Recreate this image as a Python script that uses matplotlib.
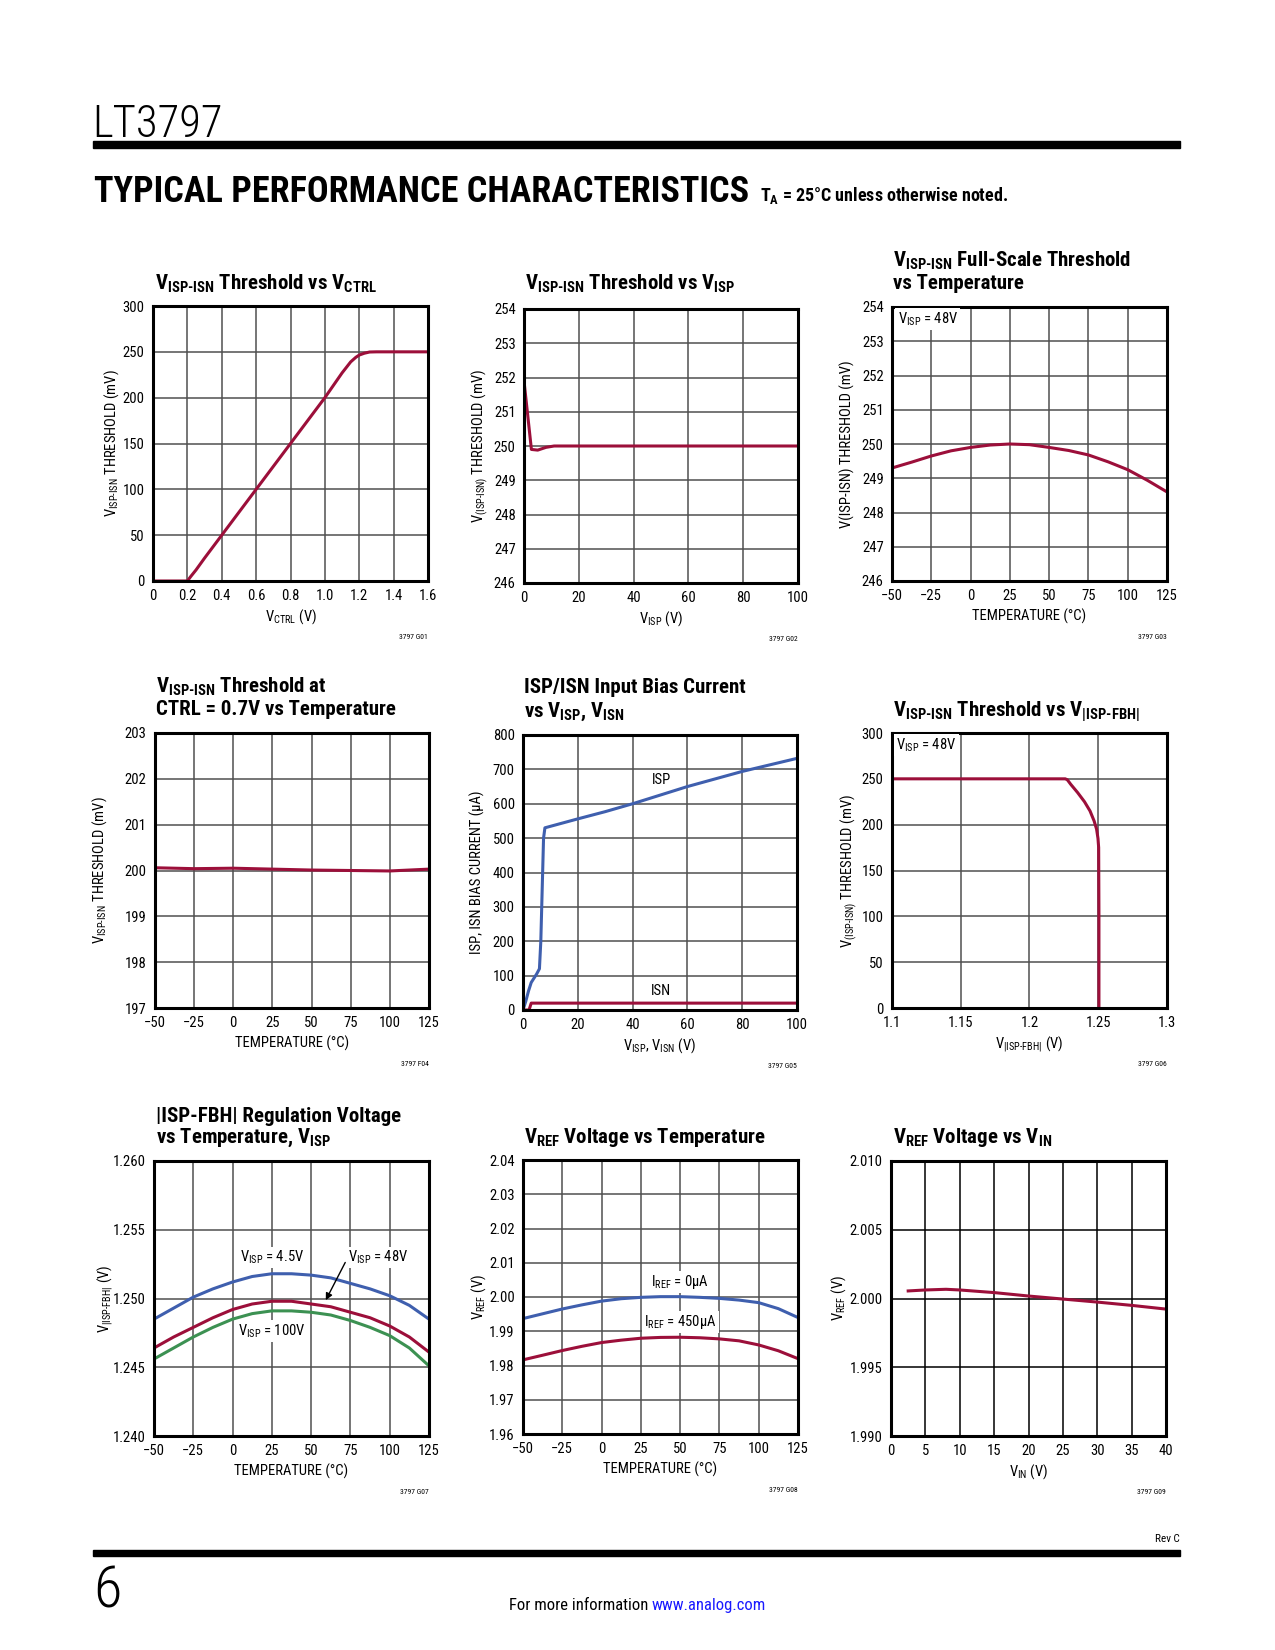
import numpy as np
import matplotlib
matplotlib.use('Agg')
import matplotlib.pyplot as plt
from matplotlib import font_manager

# look for a narrow sans; fall back to DejaVu Sans
installed = {f.name for f in font_manager.fontManager.ttflist}
cands = ['Roboto Condensed', 'Liberation Sans Narrow', 'Open Sans Condensed',
         'Noto Sans Condensed', 'DejaVu Sans Condensed']
FAM = next((c for c in cands if c in installed), None)
STRETCH = 'normal'
if FAM is None:
    cond = [f for f in font_manager.fontManager.ttflist
            if f.stretch in ('condensed', 'semi-condensed')
            and f.name in ('Noto Sans', 'DejaVu Sans', 'Roboto', 'Open Sans', 'Inter')]
    if cond:
        FAM, STRETCH = cond[0].name, 'condensed'
    else:
        FAM = 'DejaVu Sans'
NARROW = FAM != 'DejaVu Sans' or STRETCH != 'normal'

plt.rcParams['font.family'] = FAM
plt.rcParams['font.stretch'] = STRETCH
plt.rcParams['mathtext.fontset'] = 'custom'
plt.rcParams['mathtext.rm'] = FAM
plt.rcParams['mathtext.bf'] = FAM + ':bold'
plt.rcParams['mathtext.it'] = FAM + ':italic'

TICK = 10.5 if NARROW else 8.5
TITLE = 15 if NARROW else 11.5
NOTE = 5.5

RED = '#9c0f3a'
BLUE = '#3f5fae'
GREEN = '#3c9152'
HY = '\u2010'   # hyphen that mathtext will not turn into a minus

# ---- data ----
# G01: threshold vs VCTRL
vctrl = [0, 0.2, 0.22, 0.25, 0.3, 0.4, 0.6, 0.8, 1.0, 1.1, 1.15, 1.18, 1.2, 1.23, 1.26, 1.3, 1.6]
th_vctrl = [0, 0, 5, 12, 25, 50, 100, 150, 200, 227, 239, 244, 246.5, 248.5, 249.8, 250, 250]

# G02: threshold vs VISP
visp = [0, 2.7, 5, 8, 11, 20, 100]
th_visp = [251.9, 249.9, 249.88, 249.96, 250.0, 250.0, 250.0]

# temperatures for the temperature sweeps
temp = [-50, -37.5, -25, -12.5, 0, 12.5, 25, 37.5, 50, 62.5, 75, 87.5, 100, 112.5, 125]

# G03: full-scale threshold vs temperature
th_fs = [249.3, 249.47, 249.65, 249.8, 249.9, 249.97, 250.0, 249.98, 249.9, 249.81,
         249.68, 249.48, 249.25, 248.94, 248.6]

# F04: threshold at CTRL = 0.7V vs temperature
temp4 = [-50, -25, 0, 25, 50, 75, 100, 125]
th_07 = [200.06, 200.04, 200.05, 200.03, 200.01, 200.0, 199.99, 200.03]

# G05: ISP / ISN input bias current
v_isp = [0, 1, 2, 3, 5, 6, 6.5, 7, 7.5, 8, 20, 30, 40, 50, 60, 70, 80, 90, 100]
i_isp = [0, 25, 55, 80, 105, 120, 200, 350, 500, 530, 556, 577, 600, 625, 650, 672, 694, 713, 732]
v_isn = [0, 2.2, 3, 100]
i_isn = [0, 0, 20, 20]

# G06: threshold vs V|ISP-FBH|
v_fbh = [1.1, 1.226, 1.2275, 1.23, 1.235, 1.24, 1.244, 1.247, 1.2488, 1.2498, 1.2503, 1.2505, 1.2505]
th_fbh = [250, 250, 249, 244, 235, 225, 215, 204, 195, 185, 175, 100, 0]

# G07: |ISP-FBH| regulation voltage vs temperature
reg_45 = [1.2485, 1.2493, 1.2501, 1.2507, 1.2512, 1.2516, 1.2518, 1.2518, 1.2517, 1.2515,
          1.2511, 1.2507, 1.2502, 1.2495, 1.2485]
reg_48 = [1.2464, 1.2472, 1.2479, 1.2486, 1.2492, 1.2496, 1.2498, 1.2498, 1.2496, 1.2494,
          1.2490, 1.2486, 1.2480, 1.2472, 1.2461]
reg_100 = [1.2456, 1.2464, 1.2472, 1.2479, 1.2485, 1.2489, 1.2491, 1.2491, 1.2490, 1.2488,
           1.2484, 1.2479, 1.2473, 1.2464, 1.2451]

# G08: VREF vs temperature
vref_0 = [1.9937, 1.9951, 1.9965, 1.9977, 1.9988, 1.9995, 1.9999, 2.0001, 2.0001, 1.9999,
          1.9996, 1.9991, 1.99835, 1.9966, 1.9940]
vref_450 = [1.98165, 1.9830, 1.98437, 1.9856, 1.9867, 1.9874, 1.98796, 1.9882, 1.98825, 1.9881,
            1.98777, 1.9872, 1.9860, 1.9843, 1.9820]

# G09: VREF vs VIN
vin = [2.5, 5, 8, 10, 15, 20, 25, 30, 35, 40]
vref_vin = [2.00055, 2.00062, 2.00067, 2.00062, 2.00043, 2.00018, 1.99996, 1.99974, 1.9995, 1.99923]

temp_ticks = [-50, -25, 0, 25, 50, 75, 100, 125]
temp_labels = ['\u221250', '\u221225', '0', '25', '50', '75', '100', '125']

W, H = 1275, 1650
fig = plt.figure(figsize=(W / 100, H / 100), dpi=100)


def fx(x):
    return x / W


def fy(y):
    return 1 - y / H


def make_axes(box, xlim, ylim, xticks, xlabels, yticks, ylabels, xlabel, ylabel, ylab_off,
              grid_col='#4f4f4f'):
    x0, y0, x1, y1 = box
    ax = fig.add_axes([fx(x0), fy(y1), (x1 - x0) / W, (y1 - y0) / H])
    ax.set_xlim(xlim)
    ax.set_ylim(ylim)
    ax.set_xticks(xticks)
    ax.set_xticklabels(xlabels)
    ax.set_yticks(yticks)
    ax.set_yticklabels(ylabels)
    ax.grid(True, color=grid_col, lw=1.1)
    ax.set_axisbelow(True)
    for s in ax.spines.values():
        s.set_linewidth(2.2)
    ax.tick_params(length=0, pad=6, labelsize=TICK)
    ax.set_xlabel(xlabel, fontsize=TICK, va='baseline')
    ax.xaxis.set_label_coords(0.5, -40 / (y1 - y0))
    ax.set_ylabel(ylabel, fontsize=TICK, va='center')
    ax.yaxis.set_label_coords(-ylab_off / (x1 - x0), 0.5)
    return ax


def title(x, y, s):
    fig.text(fx(x), fy(y), s, fontsize=TITLE, fontweight='bold', va='baseline')


def code(box, s):
    fig.text(fx(box[2]), fy(box[3] + 58), s, fontsize=NOTE, ha='right', va='baseline')


box_note = dict(facecolor='white', edgecolor='none', pad=1.5)
LW = 2.2

# ---- page header ----
fig.text(fx(92), fy(137), 'LT3797', fontsize=32 if NARROW else 26, fontweight='light',
         va='baseline')
fig.add_artist(plt.Rectangle((fx(93), fy(147.5)), fx(1180) - fx(93), 6.5 / H,
                             transform=fig.transFigure, color='black'))
fig.text(fx(94), fy(202), 'TYPICAL PERFORMANCE CHARACTERISTICS',
         fontsize=26 if NARROW else 20, fontweight='bold', va='baseline')
fig.text(fx(760), fy(201), 'T$_{\\mathregular{A}}$ = 25°C unless otherwise noted.',
         fontsize=13 if NARROW else 10.5, fontweight='bold', va='baseline')

# ---- G01 ----
b1 = (153, 306, 428, 581)
ax = make_axes(b1, (0, 1.6), (0, 300),
               [0, 0.2, 0.4, 0.6, 0.8, 1.0, 1.2, 1.4, 1.6],
               ['0', '0.2', '0.4', '0.6', '0.8', '1.0', '1.2', '1.4', '1.6'],
               [0, 50, 100, 150, 200, 250, 300], ['0', '50', '100', '150', '200', '250', '300'],
               'V$_{\\mathregular{CTRL}}$ (V)',
               'V$_{\\mathregular{ISP' + HY + 'ISN}}$ THRESHOLD (mV)', 41)
ax.plot(vctrl, th_vctrl, color=RED, lw=LW)
title(155, 290, 'V$_{\\mathregular{ISP' + HY + 'ISN}}$ Threshold vs V$_{\\mathregular{CTRL}}$')
code(b1, '3797 G01')

# ---- G02 ----
b2 = (524, 309, 798, 583)
ax = make_axes(b2, (0, 100), (246, 254),
               [0, 20, 40, 60, 80, 100], ['0', '20', '40', '60', '80', '100'],
               list(range(246, 255)), [str(v) for v in range(246, 255)],
               'V$_{\\mathregular{ISP}}$ (V)',
               'V$_{\\mathregular{(ISP' + HY + 'ISN)}}$ THRESHOLD (mV)', 44)
ax.plot(visp, th_visp, color=RED, lw=LW)
title(525, 290, 'V$_{\\mathregular{ISP' + HY + 'ISN}}$ Threshold vs V$_{\\mathregular{ISP}}$')
code(b2, '3797 G02')

# ---- G03 ----
b3 = (892, 307, 1167, 581)
ax = make_axes(b3, (-50, 125), (246, 254), temp_ticks, temp_labels,
               list(range(246, 255)), [str(v) for v in range(246, 255)],
               'TEMPERATURE (°C)', 'V(ISP' + HY + 'ISN) THRESHOLD (mV)', 45)
ax.plot(temp, th_fs, color=RED, lw=LW)
ax.text(0.02, 0.94, 'V$_{\\mathregular{ISP}}$ = 48V', transform=ax.transAxes,
        fontsize=TICK, va='baseline', bbox=box_note)
title(893, 267, 'V$_{\\mathregular{ISP' + HY + 'ISN}}$ Full' + HY + 'Scale Threshold')
title(893, 289, 'vs Temperature')
code(b3, '3797 G03')

# ---- F04 ----
b4 = (155, 733, 429, 1008)
ax = make_axes(b4, (-50, 125), (197, 203), temp_ticks, temp_labels,
               list(range(197, 204)), [str(v) for v in range(197, 204)],
               'TEMPERATURE (°C)',
               'V$_{\\mathregular{ISP' + HY + 'ISN}}$ THRESHOLD (mV)', 55)
ax.plot(temp4, th_07, color=RED, lw=LW)
title(156, 693, 'V$_{\\mathregular{ISP' + HY + 'ISN}}$ Threshold at')
title(156, 715, 'CTRL = 0.7V vs Temperature')
code(b4, '3797 F04')

# ---- G05 ----
b5 = (523, 735, 797, 1010)
ax = make_axes(b5, (0, 100), (0, 800),
               [0, 20, 40, 60, 80, 100], ['0', '20', '40', '60', '80', '100'],
               list(range(0, 801, 100)), [str(v) for v in range(0, 801, 100)],
               'V$_{\\mathregular{ISP}}$, V$_{\\mathregular{ISN}}$ (V)',
               'ISP, ISN BIAS CURRENT (µA)', 46)
ax.plot(v_isp, i_isp, color=BLUE, lw=LW)
ax.plot(v_isn, i_isn, color=RED, lw=LW)
ax.text(50.5, 668, 'ISP', fontsize=TICK, ha='center', va='center')
ax.text(50.5, 54, 'ISN', fontsize=TICK, ha='center', va='center')
title(524, 693, 'ISP/ISN Input Bias Current')
title(524, 717, 'vs V$_{\\mathregular{ISP}}$, V$_{\\mathregular{ISN}}$')
code(b5, '3797 G05')

# ---- G06 ----
b6 = (892, 733, 1167, 1008)
ax = make_axes(b6, (1.1, 1.3), (0, 300),
               [1.1, 1.15, 1.2, 1.25, 1.3], ['1.1', '1.15', '1.2', '1.25', '1.3'],
               [0, 50, 100, 150, 200, 250, 300], ['0', '50', '100', '150', '200', '250', '300'],
               'V$_{\\mathregular{|ISP' + HY + 'FBH|}}$ (V)',
               'V$_{\\mathregular{(ISP' + HY + 'ISN)}}$ THRESHOLD (mV)', 43)
ax.plot(v_fbh, th_fbh, color=RED, lw=LW)
ax.text(0.015, 0.94, 'V$_{\\mathregular{ISP}}$ = 48V', transform=ax.transAxes,
        fontsize=TICK, va='baseline', bbox=box_note)
title(893, 717, 'V$_{\\mathregular{ISP' + HY + 'ISN}}$ Threshold vs V$_{\\mathregular{|ISP' + HY + 'FBH|}}$')
code(b6, '3797 G06')

# ---- G07 ----
b7 = (154, 1161, 429, 1436)
ax = make_axes(b7, (-50, 125), (1.240, 1.260), temp_ticks, temp_labels,
               [1.240, 1.245, 1.250, 1.255, 1.260], ['1.240', '1.245', '1.250', '1.255', '1.260'],
               'TEMPERATURE (°C)', 'V$_{\\mathregular{|ISP' + HY + 'FBH|}}$ (V)', 49)
ax.plot(temp, reg_45, color=BLUE, lw=LW)
ax.plot(temp, reg_48, color=RED, lw=LW)
ax.plot(temp, reg_100, color=GREEN, lw=LW)
ax.text(25, 1.2530, 'V$_{\\mathregular{ISP}}$ = 4.5V', fontsize=TICK, ha='center', va='center',
        bbox=box_note)
ax.text(92.5, 1.2530, 'V$_{\\mathregular{ISP}}$ = 48V', fontsize=TICK, ha='center', va='center',
        bbox=box_note)
ax.text(25, 1.24765, 'V$_{\\mathregular{ISP}}$ = 100V', fontsize=TICK, ha='center', va='center',
        bbox=box_note)
ax.annotate('', xy=(58.5, 1.2497), xytext=(72.5, 1.2528),
            arrowprops=dict(arrowstyle='-|>', color='black', lw=1, mutation_scale=10))
title(156, 1122, '|ISP' + HY + 'FBH| Regulation Voltage')
title(156, 1143, 'vs Temperature, V$_{\\mathregular{ISP}}$')
code(b7, '3797 G07')

# ---- G08 ----
b8 = (523, 1160, 798, 1434)
ax = make_axes(b8, (-50, 125), (1.96, 2.04), temp_ticks, temp_labels,
               [1.96, 1.97, 1.98, 1.99, 2.00, 2.01, 2.02, 2.03, 2.04],
               ['1.96', '1.97', '1.98', '1.99', '2.00', '2.01', '2.02', '2.03', '2.04'],
               'TEMPERATURE (°C)', 'V$_{\\mathregular{REF}}$ (V)', 44)
ax.plot(temp, vref_0, color=BLUE, lw=LW)
ax.plot(temp, vref_450, color=RED, lw=LW)
ax.text(49.8, 2.0045, 'I$_{\\mathregular{REF}}$ = 0µA', fontsize=TICK, ha='center', va='center',
        bbox=box_note)
ax.text(50.2, 1.9928, 'I$_{\\mathregular{REF}}$ = 450µA', fontsize=TICK, ha='center', va='center',
        bbox=box_note)
title(524, 1143, 'V$_{\\mathregular{REF}}$ Voltage vs Temperature')
code(b8, '3797 G08')

# ---- G09 ----
b9 = (891, 1161, 1166, 1436)
ax = make_axes(b9, (0, 40), (1.990, 2.010),
               list(range(0, 41, 5)), [str(v) for v in range(0, 41, 5)],
               [1.990, 1.995, 2.000, 2.005, 2.010], ['1.990', '1.995', '2.000', '2.005', '2.010'],
               'V$_{\\mathregular{IN}}$ (V)', 'V$_{\\mathregular{REF}}$ (V)', 52, grid_col='black')
ax.plot(vin, vref_vin, color=RED, lw=LW)
title(893, 1143, 'V$_{\\mathregular{REF}}$ Voltage vs V$_{\\mathregular{IN}}$')
code(b9, '3797 G09')

# ---- page footer ----
fig.text(fx(1180), fy(1542), 'Rev C', fontsize=8, ha='right', va='baseline')
fig.add_artist(plt.Rectangle((fx(93), fy(1556)), fx(1180) - fx(93), 6.5 / H,
                             transform=fig.transFigure, color='black'))
fig.text(fx(93), fy(1607), '6', fontsize=42 if NARROW else 34, fontweight='light',
         va='baseline')
fig.text(fx(648), fy(1610), 'For more information', fontsize=12 if NARROW else 10,
         ha='right', va='baseline')
fig.text(fx(652), fy(1610), 'www.analog.com', fontsize=12 if NARROW else 10,
         ha='left', va='baseline', color='#1a1aff')

fig.savefig('out.png', dpi=100)
